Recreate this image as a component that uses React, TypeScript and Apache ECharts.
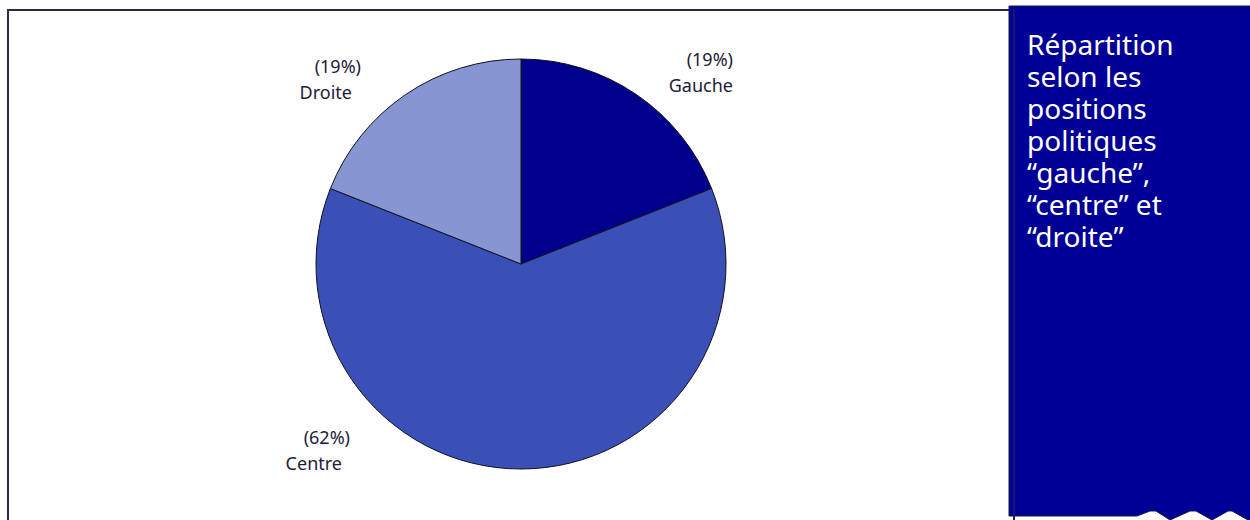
import React, { useEffect, useRef } from "react";
import * as echarts from "echarts";

const categories = ["Gauche", "Centre", "Droite"];
const values = [19, 62, 19];
const colors = ["#00008C", "#3A50B7", "#8796D3"];
const titleLines = ["Répartition", "selon les", "positions", "politiques", "“gauche”,", "“centre” et", "“droite”"];

// label anchor positions (top-right corner of each label block)
const labelPos: Record<number, { x: number; y: number; pad: number }> = {
  0: { x: 733, y: 46, pad: 0 },
  1: { x: 350, y: 424, pad: 8 },
  2: { x: 361, y: 53, pad: 9 },
};

const panelPath =
  "M1009 6 L1255 6 L1255 520 L1248 520 L1232 511 L1228 511 L1212 520 L1196 511 L1190 511 L1170 520 L1156 511 L1150 511 L1137 516 L1009 516 Z";

export default function App() {
  const ref = useRef<HTMLDivElement>(null);
  useEffect(() => {
    if (!ref.current) return;
    echarts.graphic.registerShape("panelShape", echarts.graphic.extendPath(panelPath, {}) as any);
    const chart = echarts.init(ref.current, null, { renderer: "svg" });
    const data = categories.map((name, i) => ({
      name,
      value: values[i],
      itemStyle: { color: colors[i] },
      label: {
        formatter: `{p|(${values[i]}%)}\n{n|${name}}`,
        rich: {
          p: { fontSize: 18, lineHeight: 26, color: "#1d1d38", fontFamily: "Noto Sans", align: "right" },
          n: {
            fontSize: 18,
            lineHeight: 26,
            color: "#1d1d38",
            fontFamily: "Noto Sans",
            align: "right",
            padding: [0, labelPos[i].pad, 0, 0],
          },
        },
      },
    }));
    const titleTexts = titleLines.map((line, i) => ({
      type: "text",
      x: 1027,
      y: 29 + i * 32,
      z: 12,
      style: {
        text: line,
        fill: "#ffffff",
        fontSize: 28,
        lineHeight: 30,
        fontFamily: "Noto Sans",
        textAlign: "left",
        textVerticalAlign: "top",
      },
    }));
    chart.setOption({
      animation: false,
      backgroundColor: "#ffffff",
      graphic: [
        {
          type: "rect",
          shape: { x: 8, y: 10, width: 1006, height: 530 },
          style: { fill: "none", stroke: "#2b2b45", lineWidth: 2 },
          z: 0,
          silent: true,
        },
        {
          type: "panelShape",
          x: 0,
          y: 0,
          style: { fill: "#000096", stroke: "#1a1a40", lineWidth: 1 },
          z: 10,
        },
        {
          type: "line",
          shape: { x1: 1014, y1: 9, x2: 1014, y2: 521 },
          style: { stroke: "#20205a", lineWidth: 1.5 },
          z: 11,
        },
        ...titleTexts,
      ],
      series: [
        {
          type: "pie",
          center: [521, 264],
          radius: 205,
          startAngle: 90,
          clockwise: true,
          data,
          itemStyle: { borderColor: "#111122", borderWidth: 1 },
          label: { show: true, position: "outside" },
          labelLine: { show: false },
          emphasis: { disabled: true },
          labelLayout: (params: any) => {
            const p = labelPos[params.dataIndex];
            return { x: p.x, y: p.y, align: "right", verticalAlign: "top" };
          },
        },
      ],
    });
    return () => chart.dispose();
  }, []);
  return (
    <div
      ref={ref}
      style={{ position: "absolute", left: 0, top: 0, width: 1250, height: 520 }}
    />
  );
}
